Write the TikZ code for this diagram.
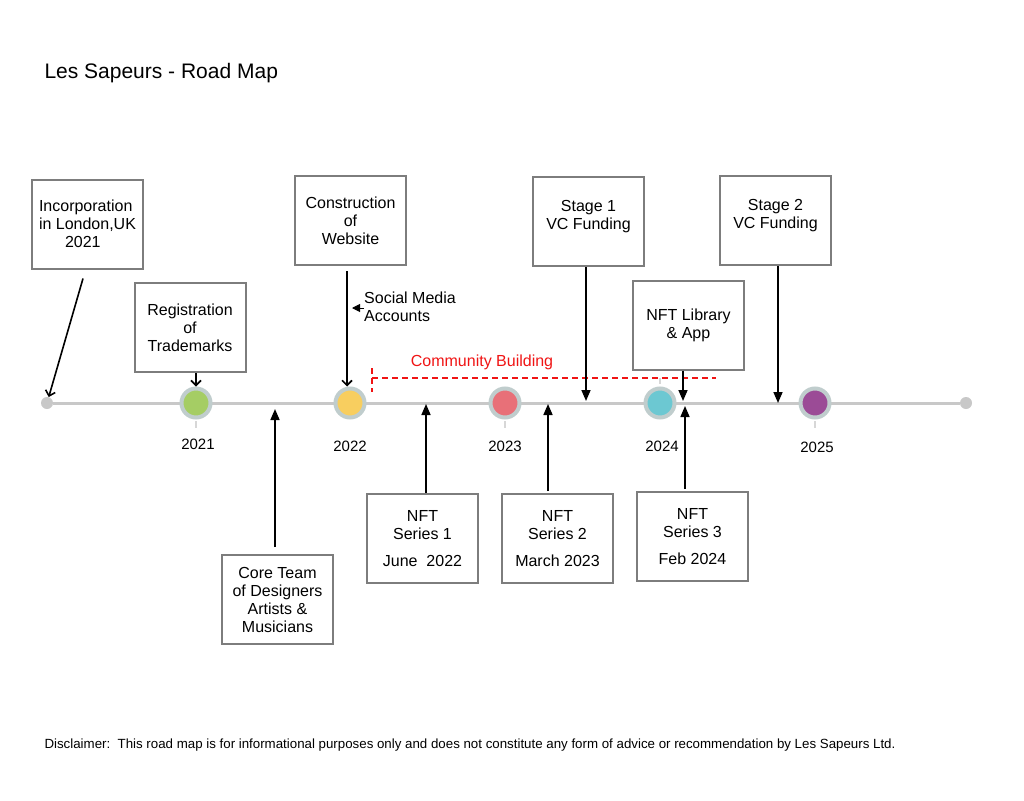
\documentclass[tikz,border=0pt]{standalone}
\usepackage{fontspec}
\setmainfont{Liberation Sans}
\usetikzlibrary{positioning,arrows.meta}
\definecolor{lineGray}{RGB}{200,200,200}
\definecolor{boxGray}{RGB}{125,125,125}
\definecolor{ringGray}{RGB}{192,205,205}
\definecolor{tickGray}{RGB}{215,215,215}
\definecolor{green21}{RGB}{165,205,100}
\definecolor{yellow22}{RGB}{248,206,95}
\definecolor{red23}{RGB}{232,112,120}
\definecolor{cyan24}{RGB}{108,200,210}
\definecolor{purple25}{RGB}{155,75,150}
\definecolor{commRed}{RGB}{240,20,20}
\tikzstyle{roadMap} = [x = 1pt, y = -1pt]
\tikzstyle{roadBox} = [draw=boxGray, line width=2pt, fill=white, minimum width=111pt, minimum height=89pt, align=center, inner sep=2pt, font=\fontsize{16}{18}\selectfont]
\tikzstyle{ringStyle} = [circle, draw=ringGray, line width=4pt, minimum size=29pt, inner sep=0pt]
\tikzstyle{endDot} = [circle, fill=lineGray, minimum size=12pt, inner sep=0pt]
\tikzstyle{yearText} = [font=\fontsize{15}{18}\selectfont]
\tikzstyle{openArrow} = [-{Straight Barb[length=5pt,width=10pt]}, line width=1.6pt]
\tikzstyle{solidArrow} = [-{Triangle[length=11pt,width=9pt]}, line width=1.6pt]
\tikzstyle{commLine} = [color=commRed, line width=1.5pt, dash pattern=on 6pt off 4pt]
\newcommand{\milestone}[3]{\node [ringStyle, fill=#3] (m#1) at (#2, 403) {};}

\begin{document}
\begin{tikzpicture}[roadMap]
  \useasboundingbox [fill=white] (0,0) rectangle (1024,800);
  \node [anchor=west, font=\fontsize{21}{24}\selectfont] (title) at (41,73) {Les Sapeurs - Road Map};

  % timeline
  \node [endDot] (startDot) at (47,403) {};
  \node [endDot] (endDot) at (966,403) {};
  \draw [lineGray, line width=3pt] (startDot) -- (endDot);
  \foreach \xpos in {196,505,815} {
    \draw [tickGray, line width=1.5pt] (\xpos,421) -- (\xpos,428);
  }
  \draw [tickGray, line width=1.5pt] (660,378) -- (660,384);
  \foreach \yr/\xpos/\col/\lx/\ly in {2021/196/green21/198/444, 2022/350/yellow22/350/446, 2023/505/red23/505/446, 2024/660/cyan24/662/446, 2025/815/purple25/817/447} {
    \milestone{\yr}{\xpos}{\col}
    \node [yearText] (y\yr) at (\lx,\ly) {\yr};
  }

  % points on the line
  \coordinate (coreMark) at (275,409);
  \coordinate (series1Mark) at (426,404);
  \coordinate (series2Mark) at (548,404);
  \coordinate (series3Mark) at (685,406);
  \coordinate (stage1Mark) at (586,401);
  \coordinate (libMark) at (683,401);
  \coordinate (stage2Mark) at (778,403);

  % boxes above
  \node [roadBox, align=left] (incBox) at (87.5,224) {Incorporation\\in London,UK\\\hspace*{26pt}2021};
  \node [roadBox] (regBox) at (190,327.5) {Registration\\of\\Trademarks};
  \node [roadBox] (webBox) at (350.5,220.5) {Construction\\of\\Website};
  \node [roadBox] (stage1Box) at (588.5,221.5) {Stage 1\\VC Funding\\[-4pt]\mbox{}};
  \node [roadBox] (libBox) at (688.5,325) {NFT Library\\\& App};
  \node [roadBox] (stage2Box) at (775.5,220.5) {Stage 2\\VC Funding\\[-4pt]\mbox{}};

  % boxes below
  \node [roadBox] (coreBox) at (277.5,599.5) {Core Team\\of Designers\\Artists \&\\Musicians};
  \node [roadBox] (series1Box) at (422.5,538.5) {NFT\\Series 1\\[9pt]June\ \ 2022};
  \node [roadBox] (series2Box) at (557.5,538.5) {NFT\\Series 2\\[9pt]March 2023};
  \node [roadBox] (series3Box) at (692.5,536.5) {NFT\\Series 3\\[9pt]Feb 2024};

  % community building
  \coordinate (commStart) at (372,378);
  \coordinate (commEnd) at (716,378);
  \coordinate (commTop) at (372,368);
  \coordinate (commBottom) at (372,392);
  \draw [commLine] (commStart) -- (commEnd);
  \draw [commLine] (commTop) -- (commBottom);
  \node [color=commRed, font=\fontsize{16}{18}\selectfont] (commText) at (482,362) {Community Building};

  % social media
  \node [anchor=west, align=left, font=\fontsize{16}{18}\selectfont, inner sep=0pt] (socialText) at (364,307) {Social Media\\Accounts};
  \coordinate (socialPoint) at (352,308);
  \draw [-{Triangle[length=8pt,width=8pt]}, line width=1pt] ([yshift=-1pt]socialText.west) -- (socialPoint);

  % arrows
  \draw [openArrow] ([xshift=-4.5pt,yshift=-9pt]incBox.south) -- (startDot);
  \draw [openArrow] ([xshift=6pt]regBox.south) -- ([xshift=6pt]m2021.north -| regBox.south);
  \draw [openArrow] ([xshift=-3.5pt,yshift=-5pt]webBox.south) -- ([xshift=-3pt]m2022.north);
  \draw [solidArrow] (stage1Box.south -| stage1Mark) -- (stage1Mark);
  \draw [solidArrow] (libBox.south -| libMark) -- (libMark);
  \draw [solidArrow] (stage2Box.south -| stage2Mark) -- (stage2Mark);
  \draw [solidArrow] ([yshift=7pt]coreBox.north -| coreMark) -- (coreMark);
  \draw [solidArrow] (series1Box.north -| series1Mark) -- (series1Mark);
  \draw [solidArrow] ([yshift=2pt]series2Box.north -| series2Mark) -- (series2Mark);
  \draw [solidArrow] ([yshift=2pt]series3Box.north -| series3Mark) -- (series3Mark);

  \node [anchor=west, font=\fontsize{13.3}{15}\selectfont] (disclaimer) at (41,745) {Disclaimer:\ \ This road map is for informational purposes only and does not constitute any form of advice or recommendation by Les Sapeurs Ltd.};
\end{tikzpicture}
\end{document}
